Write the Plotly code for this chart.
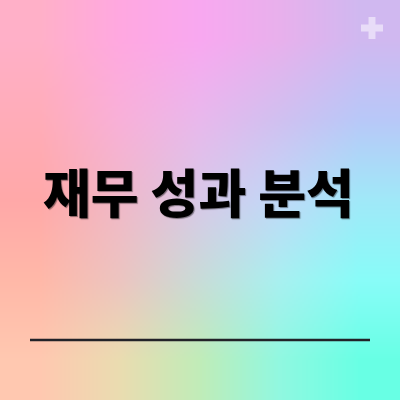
import numpy as np
import plotly.graph_objects as go

# Background colour grid (rows top->bottom, cols left->right)
bg_rows = [
    ["#ffb0c8", "#ffa8e0", "#f8a8f0", "#e8b0ec", "#d0b8f0"],
    ["#ffacb8", "#f8b0d8", "#e8b8ec", "#d0c0f0", "#b8c8f8"],
    ["#ffa8a8", "#f0b8c8", "#d8c8e8", "#c0d8f8", "#a0e8f8"],
    ["#ffb8a8", "#ecc4c0", "#c8dcd8", "#a8f0f0", "#88fcf8"],
    ["#ffc8b0", "#eadcb0", "#c0ecb8", "#90f8e0", "#68ffe4"],
]
title_text = "재무 성과 분석"

def hex2rgb(h):
    h = h.lstrip("#")
    return [int(h[i:i + 2], 16) for i in (0, 2, 4)]

grid = np.array([[hex2rgb(c) for c in row] for row in bg_rows], dtype=float)
n = grid.shape[0]
R = 200  # render resolution of the background gradient
anchor = (np.arange(n) + 0.5) / n
pos = (np.arange(R) + 0.5) / R
# blend grid colours smoothly across the canvas (background decoration only)
tmp = np.stack([np.stack([np.interp(pos, anchor, grid[r, :, ch]) for ch in range(3)], axis=-1)
                for r in range(n)])  # n x R x 3
img = np.stack([np.stack([np.interp(pos, anchor, tmp[:, c, ch]) for ch in range(3)], axis=-1)
                for c in range(R)], axis=1)  # R x R x 3
img = np.round(img).astype(np.uint8)

fig = go.Figure(go.Image(z=img, x0=0.5, dx=1, y0=0.5, dy=1, zsmooth="fast", hoverinfo="skip"))

W = 400.0
def px(x):
    return x / W
def py(y):
    return 1 - y / W

# plus icon
cx, cy, a, t = 372, 28, 11, 3.5
pts = [(cx - t, cy - a), (cx + t, cy - a), (cx + t, cy - t), (cx + a, cy - t), (cx + a, cy + t),
       (cx + t, cy + t), (cx + t, cy + a), (cx - t, cy + a), (cx - t, cy + t), (cx - a, cy + t),
       (cx - a, cy - t), (cx - t, cy - t)]
path = "M " + " L ".join(f"{px(x):.4f},{py(y):.4f}" for x, y in pts) + " Z"

fig.update_layout(
    width=400, height=400,
    margin=dict(l=0, r=0, t=0, b=0),
    xaxis=dict(range=[0, R], visible=False, fixedrange=True),
    yaxis=dict(range=[R, 0], visible=False, fixedrange=True),
    showlegend=False,
    paper_bgcolor="white",
    shapes=[
        dict(type="line", xref="paper", yref="paper", x0=px(30), x1=px(370), y0=py(340), y1=py(340),
             line=dict(color="#222228", width=2.5)),
        dict(type="path", xref="paper", yref="paper", path=path,
             fillcolor="rgba(255,255,255,0.5)", line=dict(width=0)),
    ],
    annotations=[
        dict(text=title_text, xref="paper", yref="paper", x=px(198), y=py(190),
             xanchor="center", yanchor="middle", showarrow=False,
             font=dict(family="Noto Sans CJK KR", size=52, color="#000000", weight=900,
                       shadow="1px 1px 1px rgba(0,0,0,0.45)")),
    ],
)

fig.write_html("out.html", config=dict(displayModeBar=False),
               post_script="document.body.style.margin='0';")
